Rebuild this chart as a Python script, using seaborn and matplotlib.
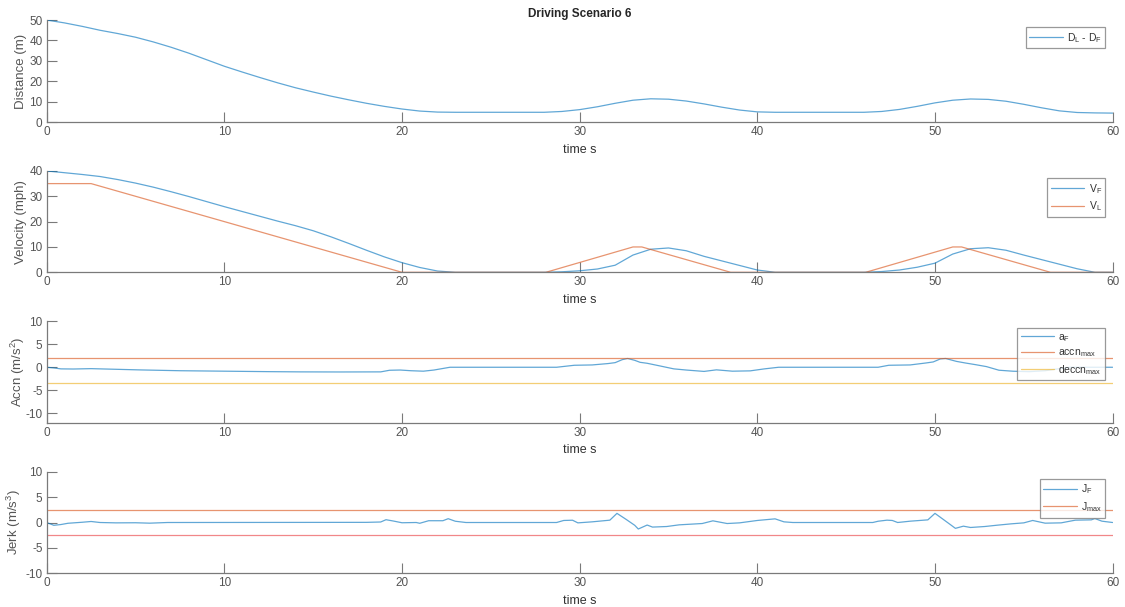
import numpy as np
import matplotlib
matplotlib.use("Agg")
import matplotlib.pyplot as plt
import seaborn as sns

# ---- time base (s) ----
t_sec = np.arange(0, 61, 1.0)

# headway D_L - D_F (m), sampled every second
gap_m = [50.0, 48.6, 46.9, 45.0, 43.4, 41.6, 39.3, 36.7, 33.8, 30.6, 27.4,
         24.6, 21.9, 19.3, 16.9, 14.8, 12.8, 11.0, 9.3, 7.8, 6.5,
         5.5, 5.0, 4.9, 4.9, 4.9, 4.9, 4.9, 4.9, 5.3, 6.2,
         7.6, 9.3, 10.8, 11.5, 11.3, 10.4, 9.0, 7.4, 6.0, 5.1,
         4.9, 4.9, 4.9, 4.9, 4.9, 4.9, 5.3, 6.3, 7.8, 9.5,
         10.8, 11.4, 11.2, 10.3, 8.8, 7.1, 5.6, 4.8, 4.6, 4.5]

# follower speed V_F (mph), sampled every second
v_follow = [40.0, 39.3, 38.6, 37.8, 36.6, 35.2, 33.6, 31.8, 29.9, 27.9, 25.9,
            24.0, 22.1, 20.2, 18.4, 16.4, 14.0, 11.4, 8.7, 6.1, 3.8,
            1.9, 0.5, 0.0, 0.0, 0.0, 0.0, 0.0, 0.0, 0.2, 0.6,
            1.3, 2.8, 6.8, 9.1, 9.6, 8.5, 6.3, 4.5, 2.7, 0.9,
            0.0, 0.0, 0.0, 0.0, 0.0, 0.0, 0.3, 0.9, 2.0, 3.6,
            7.2, 9.3, 9.7, 8.7, 6.8, 5.0, 3.2, 1.4, 0.0, 0.0]

# leader speed profile V_L (mph), breakpoints of a piecewise-linear profile
t_lead = [0, 2.5, 20, 28.1, 33, 33.5, 38.5, 46.1, 51, 51.5, 56.5, 60]
v_lead = [35, 35, 0, 0, 10, 10, 0, 0, 10, 10, 0, 0]

# follower acceleration a_F (m/s^2)
t_acc = [0, 0.4, 0.8, 1.5, 2.5, 3.5, 5.2, 7.5, 10, 12.5,
         14.3, 16.5, 18.8, 19.3, 19.9, 20.5, 21.2, 21.8, 22.7, 28.7,
         29.7, 30.7, 31.6, 32.0, 32.4, 32.7, 33.1, 33.4, 33.8, 34.5,
         35.3, 36.0, 37.0, 37.7, 38.6, 39.6, 40.4, 41.2, 46.8, 47.4,
         48.6, 49.5, 49.9, 50.3, 50.6, 51.2, 51.7, 52.3, 52.9, 53.6,
         54.4, 55.3, 56.2, 57.0, 57.6, 60]
a_follow = [0, -0.15, -0.35, -0.38, -0.3, -0.4, -0.57, -0.75, -0.85, -0.95,
            -1.0, -1.02, -1.0, -0.65, -0.6, -0.75, -0.85, -0.6, 0.0, 0.0,
            0.43, 0.5, 0.8, 1.0, 1.65, 1.9, 1.5, 1.07, 0.86, 0.3,
            -0.35, -0.6, -0.9, -0.56, -0.85, -0.78, -0.35, 0.0, 0.0, 0.43,
            0.5, 0.93, 1.15, 1.8, 1.9, 1.28, 0.93, 0.55, 0.14, -0.64,
            -0.86, -0.95, -0.75, -0.3, 0.0, 0.0]
accn_max = 2.0
deccn_max = -3.5

# follower jerk J_F (m/s^3)
t_jerk = [0, 0.4, 0.8, 1.2, 2.0, 2.5, 3.0, 3.9, 5.0, 5.8,
          6.8, 18.0, 18.8, 19.1, 19.5, 20.0, 20.8, 21.0, 21.5, 22.3,
          22.6, 23.0, 23.6, 28.7, 29.1, 29.6, 29.9, 30.7, 31.7, 32.1,
          32.6, 33.1, 33.3, 33.8, 34.1, 34.9, 35.6, 36.9, 37.5, 38.3,
          39.0, 40.0, 41.0, 41.5, 42.0, 46.5, 46.8, 47.3, 47.6, 47.9,
          48.6, 49.6, 50.0, 50.4, 50.9, 51.15, 51.6, 52.0, 52.8, 53.5,
          54.3, 55.0, 55.5, 56.2, 57.1, 57.9, 58.8, 59.0, 59.4, 60.0]
j_follow = [0, -0.55, -0.4, -0.15, 0.05, 0.2, 0.0, -0.07, -0.05, -0.13,
            0.0, 0.03, 0.1, 0.55, 0.3, -0.05, 0.0, -0.15, 0.35, 0.35,
            0.75, 0.25, 0.0, 0.0, 0.4, 0.45, -0.07, 0.13, 0.46, 1.8,
            0.65, -0.55, -1.28, -0.5, -0.9, -0.79, -0.46, -0.2, 0.33, -0.2,
            -0.07, 0.4, 0.72, 0.13, 0.0, 0.0, 0.25, 0.46, 0.4, 0.0,
            0.26, 0.52, 1.8, 0.78, -0.5, -1.15, -0.72, -0.98, -0.79, -0.53,
            -0.26, -0.07, 0.4, -0.13, -0.07, 0.46, 0.52, 0.78, 0.26, 0.0]
jerk_max = 2.5

x_ticks = [0, 10, 20, 30, 40, 50, 60]

# ---- style ----
sns.set_theme(style="white")
plt.rcParams["font.family"] = ["Liberation Sans", "DejaVu Sans"]
plt.rcParams["mathtext.fontset"] = "custom"
plt.rcParams["mathtext.rm"] = "Liberation Sans"
plt.rcParams["mathtext.it"] = "Liberation Sans:italic"
plt.rcParams["axes.unicode_minus"] = False

BLUE = "#0072BD"
ORANGE = "#D95319"
YELLOW = "#EDB120"
RED = "#E8383A"
AXIS = "#7a7a7a"
TEXT = "#555555"
LW = 0.9
ALPHA = 0.62

fig = plt.figure(figsize=(11.25, 6.07), dpi=100)
left, width = 0.0415, 0.9475
rects = [(left, 0.7985, width, 0.1685),
         (left, 0.5514, width, 0.1670),
         (left, 0.3036, width, 0.1675),
         (left, 0.0555, width, 0.1674)]
axes = [fig.add_axes(r) for r in rects]


def style_axis(ax, ylim, yticks, ylabel, label_x=-0.0185):
    ax.set_xlim(0, 60)
    ax.set_ylim(*ylim)
    ax.set_xticks(x_ticks)
    ax.set_yticks(yticks)
    for side in ("top", "right"):
        ax.spines[side].set_visible(False)
    for side in ("left", "bottom"):
        ax.spines[side].set_color(AXIS)
        ax.spines[side].set_linewidth(0.9)
    ax.tick_params(direction="in", length=7.5, width=0.8, color=AXIS,
                   labelsize=8.5, labelcolor=TEXT, pad=3,
                   left=True, bottom=True)
    ax.set_xlabel("time s", fontsize=9, color="#333333", labelpad=4)
    ax.set_ylabel(ylabel, fontsize=9.5, color=TEXT)
    ax.yaxis.set_label_coords(label_x, 0.5)
    ax.grid(False)


def style_legend(ax, **kw):
    leg = ax.legend(loc="upper right", fontsize=7.5, frameon=True,
                    fancybox=False, handlelength=3.2, handletextpad=0.4,
                    borderpad=0.35, labelspacing=0.35, borderaxespad=0.7, **kw)
    leg.get_frame().set_edgecolor("#808080")
    leg.get_frame().set_linewidth(0.9)
    for txt in leg.get_texts():
        txt.set_color("#333333")
    return leg


# Panel 1: headway distance
ax = axes[0]
sns.lineplot(x=t_sec, y=gap_m, ax=ax, color=BLUE, lw=LW, alpha=ALPHA,
             label=r"D$_\mathrm{L}$ - D$_\mathrm{F}$")
style_axis(ax, (0, 50), [0, 10, 20, 30, 40, 50], "Distance (m)")
style_legend(ax)
ax.set_title("Driving Scenario 6", fontsize=8.5, fontweight="bold",
             color="#262626", pad=2)

# Panel 2: velocities
ax = axes[1]
sns.lineplot(x=t_sec, y=v_follow, ax=ax, color=BLUE, lw=LW, alpha=ALPHA,
             label=r"V$_\mathrm{F}$")
sns.lineplot(x=t_lead, y=v_lead, ax=ax, color=ORANGE, lw=LW, alpha=ALPHA,
             label=r"V$_\mathrm{L}$")
style_axis(ax, (0, 40), [0, 10, 20, 30, 40], "Velocity (mph)")
style_legend(ax)

# Panel 3: acceleration with limits
ax = axes[2]
sns.lineplot(x=t_acc, y=a_follow, ax=ax, color=BLUE, lw=LW, alpha=ALPHA,
             label=r"a$_\mathrm{F}$")
ax.axhline(accn_max, color=ORANGE, lw=LW, alpha=ALPHA,
           label=r"accn$_\mathrm{max}$")
ax.axhline(deccn_max, color=YELLOW, lw=LW, alpha=ALPHA,
           label=r"deccn$_\mathrm{max}$")
style_axis(ax, (-12, 10), [-10, -5, 0, 5, 10], r"Accn (m/s$^2$)")
style_legend(ax)

# Panel 4: jerk with symmetric limits
ax = axes[3]
sns.lineplot(x=t_jerk, y=j_follow, ax=ax, color=BLUE, lw=LW, alpha=ALPHA,
             label=r"J$_\mathrm{F}$")
ax.axhline(jerk_max, color=ORANGE, lw=LW, alpha=ALPHA,
           label=r"J$_\mathrm{max}$")
ax.axhline(-jerk_max, color=RED, lw=LW, alpha=0.6)
style_axis(ax, (-10, 10), [-10, -5, 0, 5, 10], r"Jerk (m/s$^3$)",
           label_x=-0.022)
style_legend(ax)

fig.savefig("out.png", dpi=100)
